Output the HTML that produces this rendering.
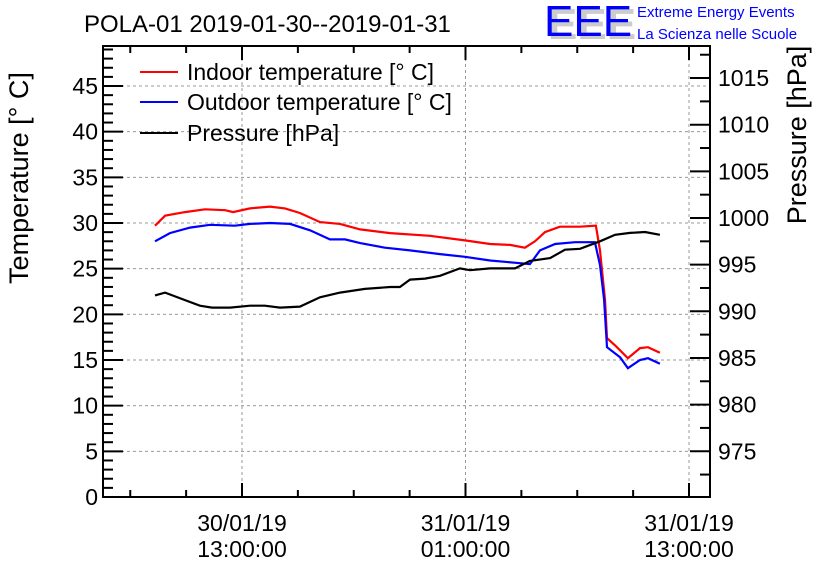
<!DOCTYPE html>
<html><head><meta charset="utf-8"><style>
body{margin:0;background:#fff;width:836px;height:572px;overflow:hidden}
svg{display:block;font-family:"Liberation Sans",sans-serif}
</style></head><body>
<svg id="c" width="836" height="572"></svg>
<script>
const tickT=[0,5,10,15,20,25,30,35,40,45];
const tickP=[975,980,985,990,995,1000,1005,1010,1015];
const xLabels=[["30/01/19","13:00:00"],["31/01/19","01:00:00"],["31/01/19","13:00:00"]];
const xLabelHours=[13,25,37];
const inT=[8.33,8.87,9.94,11.01,12.09,12.52,13.43,14.5,15.31,16.11,17.19,18.26,19.34,20.95,23.09,24.97,26.32,27.39,28.19,28.73,29.27,30.07,31.15,32.0,32.22,32.49,32.6,33.03,33.72,34.37,34.8,35.44];
const inV=[29.7,30.8,31.2,31.5,31.4,31.2,31.6,31.8,31.6,31.1,30.1,29.9,29.3,28.9,28.6,28.1,27.7,27.6,27.3,28.0,29.0,29.6,29.6,29.7,27,21.6,17.4,16.6,15.2,16.3,16.4,15.8];
const outT=[8.33,9.13,10.21,11.28,12.62,13.43,14.5,15.58,16.65,17.72,18.53,19.34,20.68,22.02,23.63,24.97,26.32,27.93,28.46,29.0,29.81,30.88,31.95,32.22,32.44,32.6,33.3,33.72,34.37,34.8,35.44];
const outV=[28.0,28.9,29.5,29.8,29.7,29.9,30.0,29.9,29.2,28.2,28.2,27.8,27.3,27.0,26.6,26.3,25.9,25.6,25.5,27.0,27.7,27.9,27.9,25.4,21.6,16.4,15.3,14.1,15.0,15.2,14.6];
const prT=[8.33,8.87,9.94,10.74,11.39,12.36,13.43,14.23,15.04,16.11,17.19,18.26,19.6,20.95,21.48,22.02,22.83,23.63,24.7,25.24,26.32,27.66,28.46,29.54,30.34,31.15,32.22,33.03,33.83,34.64,35.44];
const prV=[991.7,992.0,991.2,990.6,990.4,990.4,990.6,990.6,990.4,990.5,991.5,992.0,992.4,992.6,992.6,993.4,993.5,993.8,994.6,994.4,994.6,994.6,995.4,995.7,996.6,996.7,997.5,998.2,998.4,998.5,998.2];

const L=103,R=710,T=46,B=497;
const xs=h=>242+(h-13)*18.625;
const yT=v=>B-v*9.133;
const yP=p=>218-(p-1000)*9.33;
const svg=document.getElementById('c');
const NS='http://www.w3.org/2000/svg';
function mk(tag,at,parent){const e=document.createElementNS(NS,tag);for(const k in at)e.setAttribute(k,at[k]);(parent||svg).appendChild(e);return e;}

const grid=mk('g',{stroke:'#999','stroke-dasharray':'3,3','stroke-width':1});


tickT.forEach(v=>mk('line',{x1:L,x2:R,y1:yT(v),y2:yT(v)},grid));
xLabelHours.forEach(h=>mk('line',{x1:xs(h),x2:xs(h),y1:T,y2:B},grid));

const tk=mk('g',{stroke:'#000','stroke-width':2});


for(let v=0;v<=49;v+=1){const len=v%5===0?20:10;mk('line',{x1:L,x2:L+len,y1:yT(v),y2:yT(v)},tk);}
for(let p=972.5;p<=1018;p+=2.5){const maj=Math.abs(p%5)<0.01;mk('line',{x1:R,x2:R-(maj?20:10),y1:yP(p),y2:yP(p)},tk);}
for(let h=-5;h<=37;h+=3){const maj=(h-13)%12===0;const x=xs(h);if(x<L||x>R)continue;
 mk('line',{x1:x,x2:x,y1:B,y2:B-(maj?14:7)},tk);mk('line',{x1:x,x2:x,y1:T,y2:T+(maj?14:7)},tk);}

const fr=mk('rect',{x:L,y:T,width:R-L,height:B-T,fill:'none',stroke:'#000','stroke-width':2});



tickT.forEach(v=>{const t=mk('text',{x:L-5,y:yT(v)+8,'text-anchor':'end','font-size':23});t.textContent=v;
 });
tickP.forEach(p=>{const t=mk('text',{x:R+8,y:yP(p)+8,'font-size':23});t.textContent=p;
 });
xLabels.forEach((lb,i)=>{const x=xs(xLabelHours[i]);
 const a=mk('text',{x:x,y:531,'text-anchor':'middle','font-size':23});a.textContent=lb[0];
 
 const b=mk('text',{x:x,y:557,'text-anchor':'middle','font-size':23});b.textContent=lb[1];
 });

function line(ts,vs,yf,col,name){const pts=ts.map((t,i)=>xs(t).toFixed(1)+','+yf(vs[i]).toFixed(1)).join(' ');
 const p=mk('polyline',{points:pts,fill:'none',stroke:col,'stroke-width':2.2});
 }
line(inT,inV,yT,'#f00','indoor-temperature-line');
line(outT,outV,yT,'#00f','outdoor-temperature-line');
line(prT,prV,yP,'#000','pressure-line');

[['#f00','Indoor temperature [° C]',72],['#00f','Outdoor temperature [° C]',102],['#000','Pressure [hPa]',133]].forEach(([c,s,y])=>{
 const l=mk('line',{x1:140,x2:178,y1:y,y2:y,stroke:c,'stroke-width':2});
 
 const t=mk('text',{x:187,y:y+8,'font-size':23});t.textContent=s;
 });

let t=mk('text',{x:84,y:32,'font-size':24});t.textContent='POLA-01 2019-01-30--2019-01-31';

t=mk('text',{x:0,y:0,'font-size':27,transform:'translate(28,178) rotate(-90)','text-anchor':'middle'});t.textContent='Temperature [° C]';

t=mk('text',{x:0,y:0,'font-size':27,transform:'translate(806,135) rotate(-90)','text-anchor':'middle'});t.textContent='Pressure [hPa]';


const lg=mk('g',{});

t=mk('text',{x:548,y:39,'font-size':44,fill:'#ccc','font-weight':'bold'},lg);t.textContent='EEE';
t=mk('text',{x:544,y:36,'font-size':44,fill:'#00f'},lg);t.textContent='EEE';
t=mk('text',{x:637,y:17,'font-size':15,fill:'#00f'},lg);t.textContent='Extreme Energy Events';
t=mk('text',{x:637,y:39,'font-size':15,fill:'#00f'},lg);t.textContent='La Scienza nelle Scuole';
</script>
</body></html>
